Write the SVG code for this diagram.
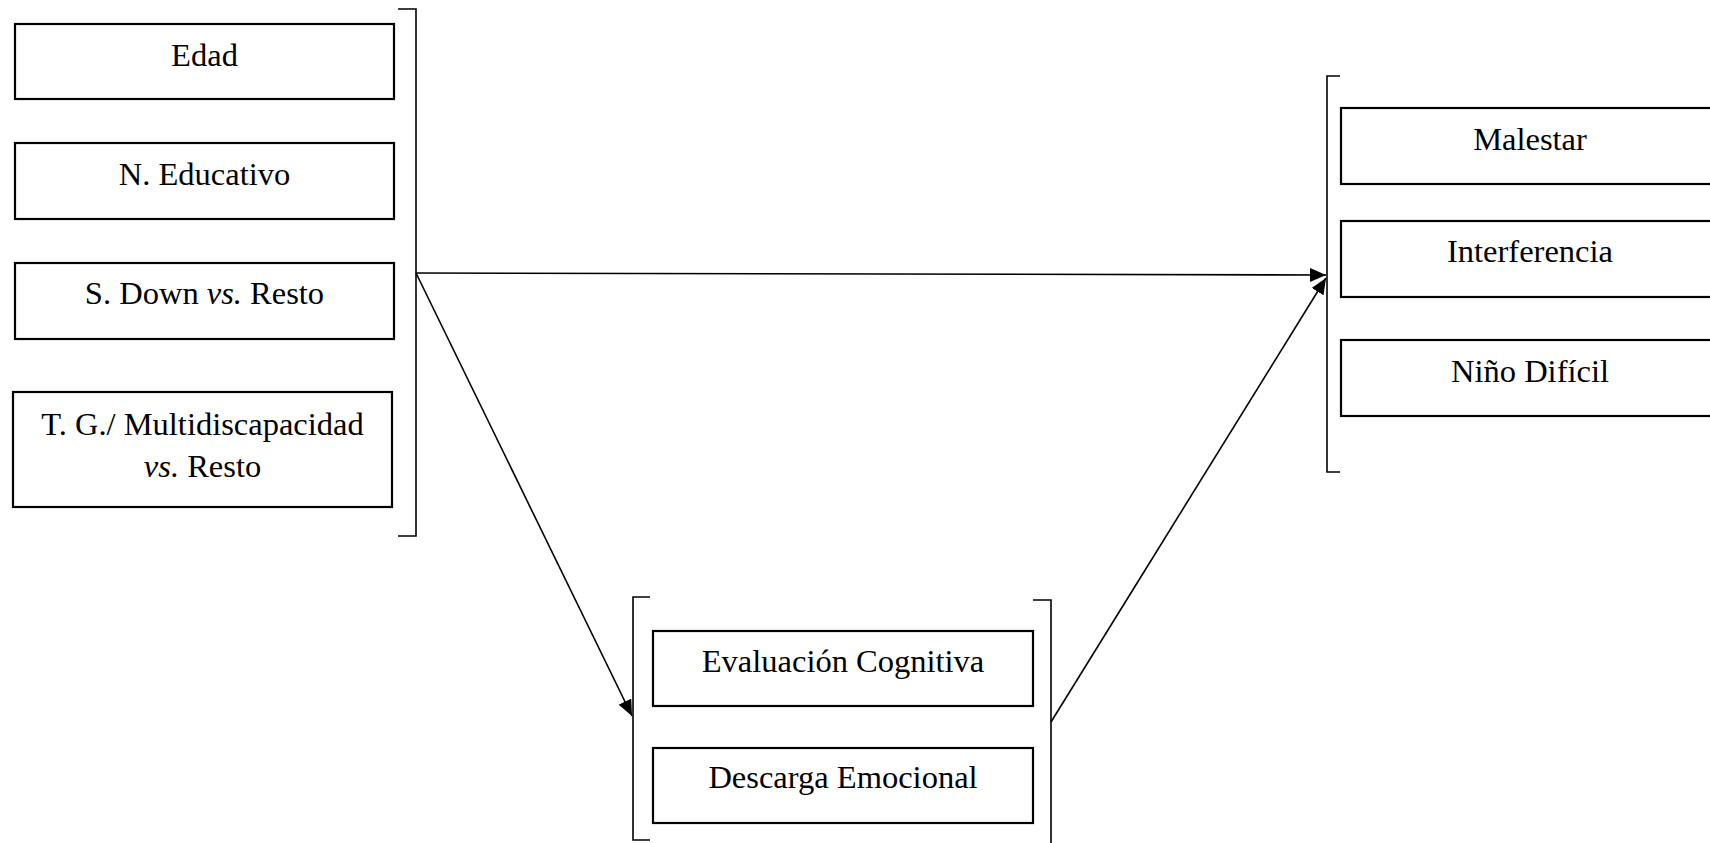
<svg xmlns="http://www.w3.org/2000/svg" width="1710" height="843" viewBox="0 0 1710 843">
  <style>
    .box { fill: #ffffff; stroke: #000000; stroke-width: 2.2; }
    .bracket { fill: none; stroke: #000000; stroke-width: 1.6; }
    .label { font-family: "Liberation Serif", "Times New Roman", serif; font-size: 32.5px; fill: #000000; text-anchor: middle; }
    .edge { fill: none; stroke: #000000; stroke-width: 1.6; }
  </style>
  <defs>
    <marker id="arrow" markerUnits="userSpaceOnUse" markerWidth="16" markerHeight="14" refX="16" refY="7" orient="auto">
      <path d="M0,0 L16,7 L0,14 Z" fill="#000000"/>
    </marker>
  </defs>
  <rect width="1710" height="843" fill="#ffffff"/>

  <!-- predictors -->
  <g id="predictors">
    <path class="bracket" d="M398,9 H416 V536 H398"/>
    <g id="edad">
      <rect class="box" x="15" y="24" width="379" height="75"/>
      <text class="label" x="204.5" y="66">Edad</text>
    </g>
    <g id="n-educativo">
      <rect class="box" x="15" y="143" width="379" height="76"/>
      <text class="label" x="204.5" y="185">N. Educativo</text>
    </g>
    <g id="s-down">
      <rect class="box" x="15" y="263" width="379" height="76"/>
      <text class="label" x="204.5" y="304">S. Down <tspan font-style="italic">vs.</tspan> Resto</text>
    </g>
    <g id="tg-multidiscapacidad">
      <rect class="box" x="13" y="392" width="379" height="115"/>
      <text class="label" x="202.5" y="435">T. G./ Multidiscapacidad</text>
      <text class="label" x="202.5" y="477"><tspan font-style="italic">vs.</tspan> Resto</text>
    </g>
  </g>

  <!-- mediators -->
  <g id="mediators">
    <path class="bracket" d="M650,597 H633 V840 H650"/>
    <path class="bracket" d="M1033,600 H1051 V843"/>
    <g id="evaluacion-cognitiva">
      <rect class="box" x="653" y="631" width="380" height="75"/>
      <text class="label" x="843" y="672">Evaluación Cognitiva</text>
    </g>
    <g id="descarga-emocional">
      <rect class="box" x="653" y="748" width="380" height="75"/>
      <text class="label" x="843" y="788">Descarga Emocional</text>
    </g>
  </g>

  <!-- outcomes -->
  <g id="outcomes">
    <path class="bracket" d="M1340,76 H1327 V472 H1340"/>
    <g id="malestar">
      <rect class="box" x="1341" y="108" width="380" height="76"/>
      <text class="label" x="1530" y="150">Malestar</text>
    </g>
    <g id="interferencia">
      <rect class="box" x="1341" y="221" width="380" height="76"/>
      <text class="label" x="1530" y="262">Interferencia</text>
    </g>
    <g id="nino-dificil">
      <rect class="box" x="1341" y="340" width="380" height="76"/>
      <text class="label" x="1530" y="382">Niño Difícil</text>
    </g>
  </g>

  <!-- connectors -->
  <g id="connectors">
    <line class="edge" x1="416" y1="273" x2="1326" y2="275" marker-end="url(#arrow)"/>
    <line class="edge" x1="416" y1="273" x2="632" y2="716" marker-end="url(#arrow)"/>
    <line class="edge" x1="1051" y1="722" x2="1326" y2="278" marker-end="url(#arrow)"/>
  </g>
</svg>
